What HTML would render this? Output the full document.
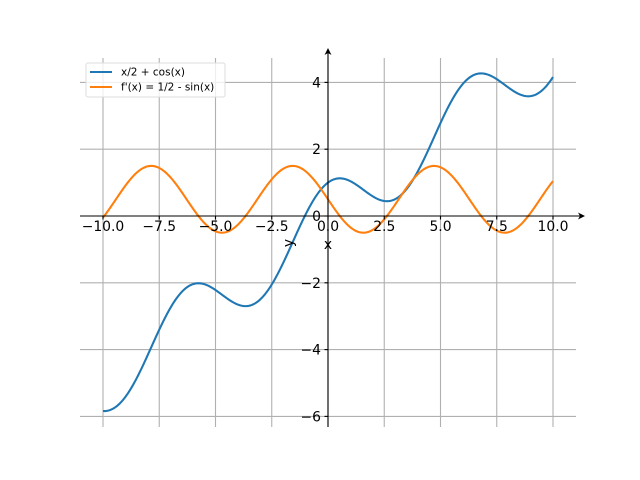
<!DOCTYPE html>
<html><head><meta charset="utf-8"><style>
html,body{margin:0;padding:0;background:#fff}
svg{display:block;font-family:"DejaVu Sans","Liberation Sans",sans-serif}
</style></head><body>
<svg id="s" width="640" height="480" viewBox="0 0 640 480" xmlns="http://www.w3.org/2000/svg">
<rect width="640" height="480" fill="#fff"/>
<g id="grid" stroke="#b0b0b0" stroke-width="1.1"></g>
<path id="p1" fill="none" stroke="#1f77b4" stroke-width="2.08"/>
<path id="p2" fill="none" stroke="#ff7f0e" stroke-width="2.08"/>
<g stroke="#000" stroke-width="1.1">
<line x1="80" y1="216" x2="582" y2="216"/>
<line x1="328" y1="427" x2="328" y2="52"/>
</g>
<path d="M585,216 L578,212.5 L580,216 L578,219.5 Z" fill="#000"/>
<path d="M328,48 L324.5,55 L328,53 L331.5,55 Z" fill="#000"/>
<g id="ticks" stroke="#000" stroke-width="1.1"></g>
<g id="lbl" font-size="13.9" fill="#000"></g>
<text x="328" y="249" font-size="13.9" text-anchor="middle">x</text>
<text x="293" y="243" font-size="13.9" text-anchor="middle" transform="rotate(-90 293 243)">y</text>
<g>
<rect x="86" y="63" width="139" height="34" fill="#fff" fill-opacity="0.8" stroke="#ddd" stroke-width="1" rx="2"/>
<line x1="90" y1="72" x2="112" y2="72" stroke="#1f77b4" stroke-width="2.08"/>
<line x1="90" y1="87" x2="112" y2="87" stroke="#ff7f0e" stroke-width="2.08"/>
<text x="121" y="75.5" font-size="10.5">x/2 + cos(x)</text>
<text x="121" y="90.5" font-size="10.5">f'(x) = 1/2 - sin(x)</text>
</g>
</svg>
<script>
var X=function(x){return 328+22.5*x},Y=function(y){return 216-33.4*y};
var ns="http://www.w3.org/2000/svg";
function el(p,t,a,txt){var e=document.createElementNS(ns,t);for(var k in a)e.setAttribute(k,a[k]);if(txt!=null)e.textContent=txt;document.getElementById(p).appendChild(e);}
for(var i=-4;i<=4;i++){var x=X(i*2.5);el("grid","line",{x1:x,y1:58,x2:x,y2:427});
el("ticks","line",{x1:x,y1:216,x2:x,y2:219.5});
el("lbl","text",{x:x,y:231,"text-anchor":"middle"},(i*2.5).toFixed(1).replace("-","\u2212"));}
for(var j=-6;j<=4;j+=2){var y=Y(j);el("grid","line",{x1:80,y1:y,x2:576,y2:y});
el("ticks","line",{x1:324.5,y1:y,x2:328,y2:y});
el("lbl","text",{x:321,y:y+5,"text-anchor":"end"},String(j).replace("-","\u2212"));}
var d1="",d2="";
for(var k=0;k<=400;k++){var x=-10+k*0.05;
d1+=(k?"L":"M")+X(x).toFixed(2)+","+Y(x/2+Math.cos(x)).toFixed(2);
d2+=(k?"L":"M")+X(x).toFixed(2)+","+Y(0.5-Math.sin(x)).toFixed(2);}
document.getElementById("p1").setAttribute("d",d1);
document.getElementById("p2").setAttribute("d",d2);
</script>
</body></html>
